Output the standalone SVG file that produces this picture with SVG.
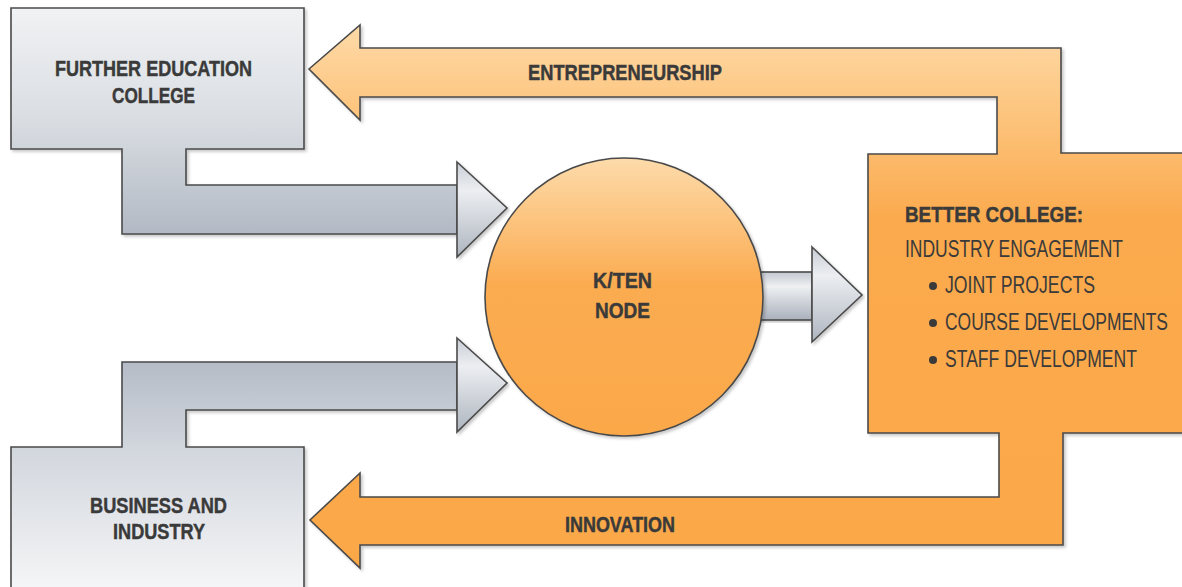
<svg xmlns="http://www.w3.org/2000/svg" width="1182" height="587" viewBox="0 0 1182 587">
  <defs>
    <linearGradient id="gFec" x1="0" y1="8" x2="0" y2="234" gradientUnits="userSpaceOnUse">
      <stop offset="0" stop-color="#f1f2f4"/>
      <stop offset="0.5" stop-color="#d9dde2"/>
      <stop offset="1" stop-color="#b2b9c4"/>
    </linearGradient>
    <linearGradient id="gBi" x1="0" y1="362" x2="0" y2="587" gradientUnits="userSpaceOnUse">
      <stop offset="0" stop-color="#b5bcc7"/>
      <stop offset="0.4" stop-color="#d3d7de"/>
      <stop offset="1" stop-color="#f4f5f6"/>
    </linearGradient>
    <linearGradient id="gHead" x1="0" y1="0" x2="0" y2="1">
      <stop offset="0" stop-color="#c9ced6"/>
      <stop offset="0.3" stop-color="#eceef1"/>
      <stop offset="1" stop-color="#aeb5c0"/>
    </linearGradient>
    <linearGradient id="gShaft" x1="0" y1="0" x2="0" y2="1">
      <stop offset="0" stop-color="#c3c8d0"/>
      <stop offset="0.3" stop-color="#eef0f2"/>
      <stop offset="1" stop-color="#aab1bc"/>
    </linearGradient>
    <linearGradient id="gOrange" x1="0" y1="25" x2="0" y2="568" gradientUnits="userSpaceOnUse">
      <stop offset="0" stop-color="#fedaa8"/>
      <stop offset="0.12" stop-color="#fdca88"/>
      <stop offset="0.36" stop-color="#fbaa4d"/>
      <stop offset="1" stop-color="#fba84a"/>
    </linearGradient>
    <linearGradient id="gCircle" x1="0" y1="158" x2="0" y2="436" gradientUnits="userSpaceOnUse">
      <stop offset="0" stop-color="#fddbab"/>
      <stop offset="0.45" stop-color="#fbac51"/>
      <stop offset="1" stop-color="#fba84a"/>
    </linearGradient>
    <filter id="sh" x="-5%" y="-5%" width="110%" height="110%">
      <feDropShadow dx="2" dy="2" stdDeviation="1.5" flood-color="#000" flood-opacity="0.22"/>
    </filter>
  </defs>
  <style>
    .edge { stroke: #4a4a4a; stroke-width: 1.6; stroke-linejoin: miter; }
    .t { font-family: "Liberation Sans", Arial, sans-serif; fill: #3a3a3a; }
    .b { font-weight: bold; font-size: 22px; stroke: #3a3a3a; stroke-width: 0.45; }
    .r { font-weight: normal; font-size: 23px; }
  </style>
  <rect width="1182" height="587" fill="#ffffff"/>

  <g id="node-better-college">
    <path class="edge" filter="url(#sh)" fill="url(#gOrange)" d="M309,69 L360,25 L360,48 L1061,48 L1061,153 L1183,153 L1183,433 L1063,433 L1063,545 L360,545 L360,568 L310,520 L360,473 L360,497 L999,497 L999,433 L868,433 L868,154 L997,154 L997,97 L360,97 L360,120 Z"/>
    <text class="t b" x="905" y="222" textLength="178" lengthAdjust="spacingAndGlyphs" font-size="21">BETTER COLLEGE:</text>
    <g transform="translate(905,257) scale(0.84,1)">
      <text class="t r" x="0" y="0" textLength="259.5" lengthAdjust="spacingAndGlyphs">INDUSTRY ENGAGEMENT</text>
    </g>
    <circle cx="933" cy="286" r="4" fill="#3a3a3a"/>
    <g transform="translate(945,293) scale(0.84,1)">
      <text class="t r" x="0" y="0" textLength="178.6" lengthAdjust="spacingAndGlyphs">JOINT PROJECTS</text>
    </g>
    <circle cx="933" cy="323" r="4" fill="#3a3a3a"/>
    <g transform="translate(945,330) scale(0.78,1)">
      <text class="t r" x="0" y="0" textLength="285.9" lengthAdjust="spacingAndGlyphs">COURSE DEVELOPMENTS</text>
    </g>
    <circle cx="933" cy="360" r="4" fill="#3a3a3a"/>
    <g transform="translate(945,367) scale(0.84,1)">
      <text class="t r" x="0" y="0" textLength="228.6" lengthAdjust="spacingAndGlyphs">STAFF DEVELOPMENT</text>
    </g>
  </g>

  <g id="node-further-education-college">
    <path class="edge" filter="url(#sh)" fill="url(#gFec)" d="M11,8 L304,8 L304,149 L186,149 L186,185 L457,185 L457,234 L122,234 L122,149 L11,149 Z"/>
    <text class="t b" x="55" y="76" textLength="197" lengthAdjust="spacingAndGlyphs">FURTHER EDUCATION</text>
    <text class="t b" x="112" y="103" textLength="83" lengthAdjust="spacingAndGlyphs">COLLEGE</text>
  </g>

  <g id="node-business-and-industry">
    <path class="edge" filter="url(#sh)" fill="url(#gBi)" d="M11,447 L122,447 L122,362 L457,362 L457,410 L186,410 L186,447 L304,447 L304,595 L11,595 Z"/>
    <text class="t b" x="90" y="513" textLength="137" lengthAdjust="spacingAndGlyphs">BUSINESS AND</text>
    <text class="t b" x="113" y="539" textLength="92" lengthAdjust="spacingAndGlyphs">INDUSTRY</text>
  </g>

  <g id="connectors">
    <polygon class="edge" filter="url(#sh)" fill="url(#gHead)" points="457,162 507,208 457,257"/>
    <polygon class="edge" filter="url(#sh)" fill="url(#gHead)" points="457,338 507,383 457,432"/>
    <rect class="edge" filter="url(#sh)" fill="url(#gShaft)" x="745" y="272" width="67" height="48"/>
    <polygon class="edge" filter="url(#sh)" fill="url(#gHead)" points="812,247 862,295 812,342"/>
    <text class="t b" x="528" y="80" font-size="21" textLength="194" lengthAdjust="spacingAndGlyphs">ENTREPRENEURSHIP</text>
    <text class="t b" x="565" y="532" font-size="21" textLength="110" lengthAdjust="spacingAndGlyphs">INNOVATION</text>
  </g>

  <g id="node-kten">
    <circle class="edge" filter="url(#sh)" fill="url(#gCircle)" cx="624" cy="297" r="139"/>
    <text class="t b" x="593" y="288" textLength="59" lengthAdjust="spacingAndGlyphs">K/TEN</text>
    <text class="t b" x="595" y="318" textLength="55" lengthAdjust="spacingAndGlyphs">NODE</text>
  </g>
</svg>
